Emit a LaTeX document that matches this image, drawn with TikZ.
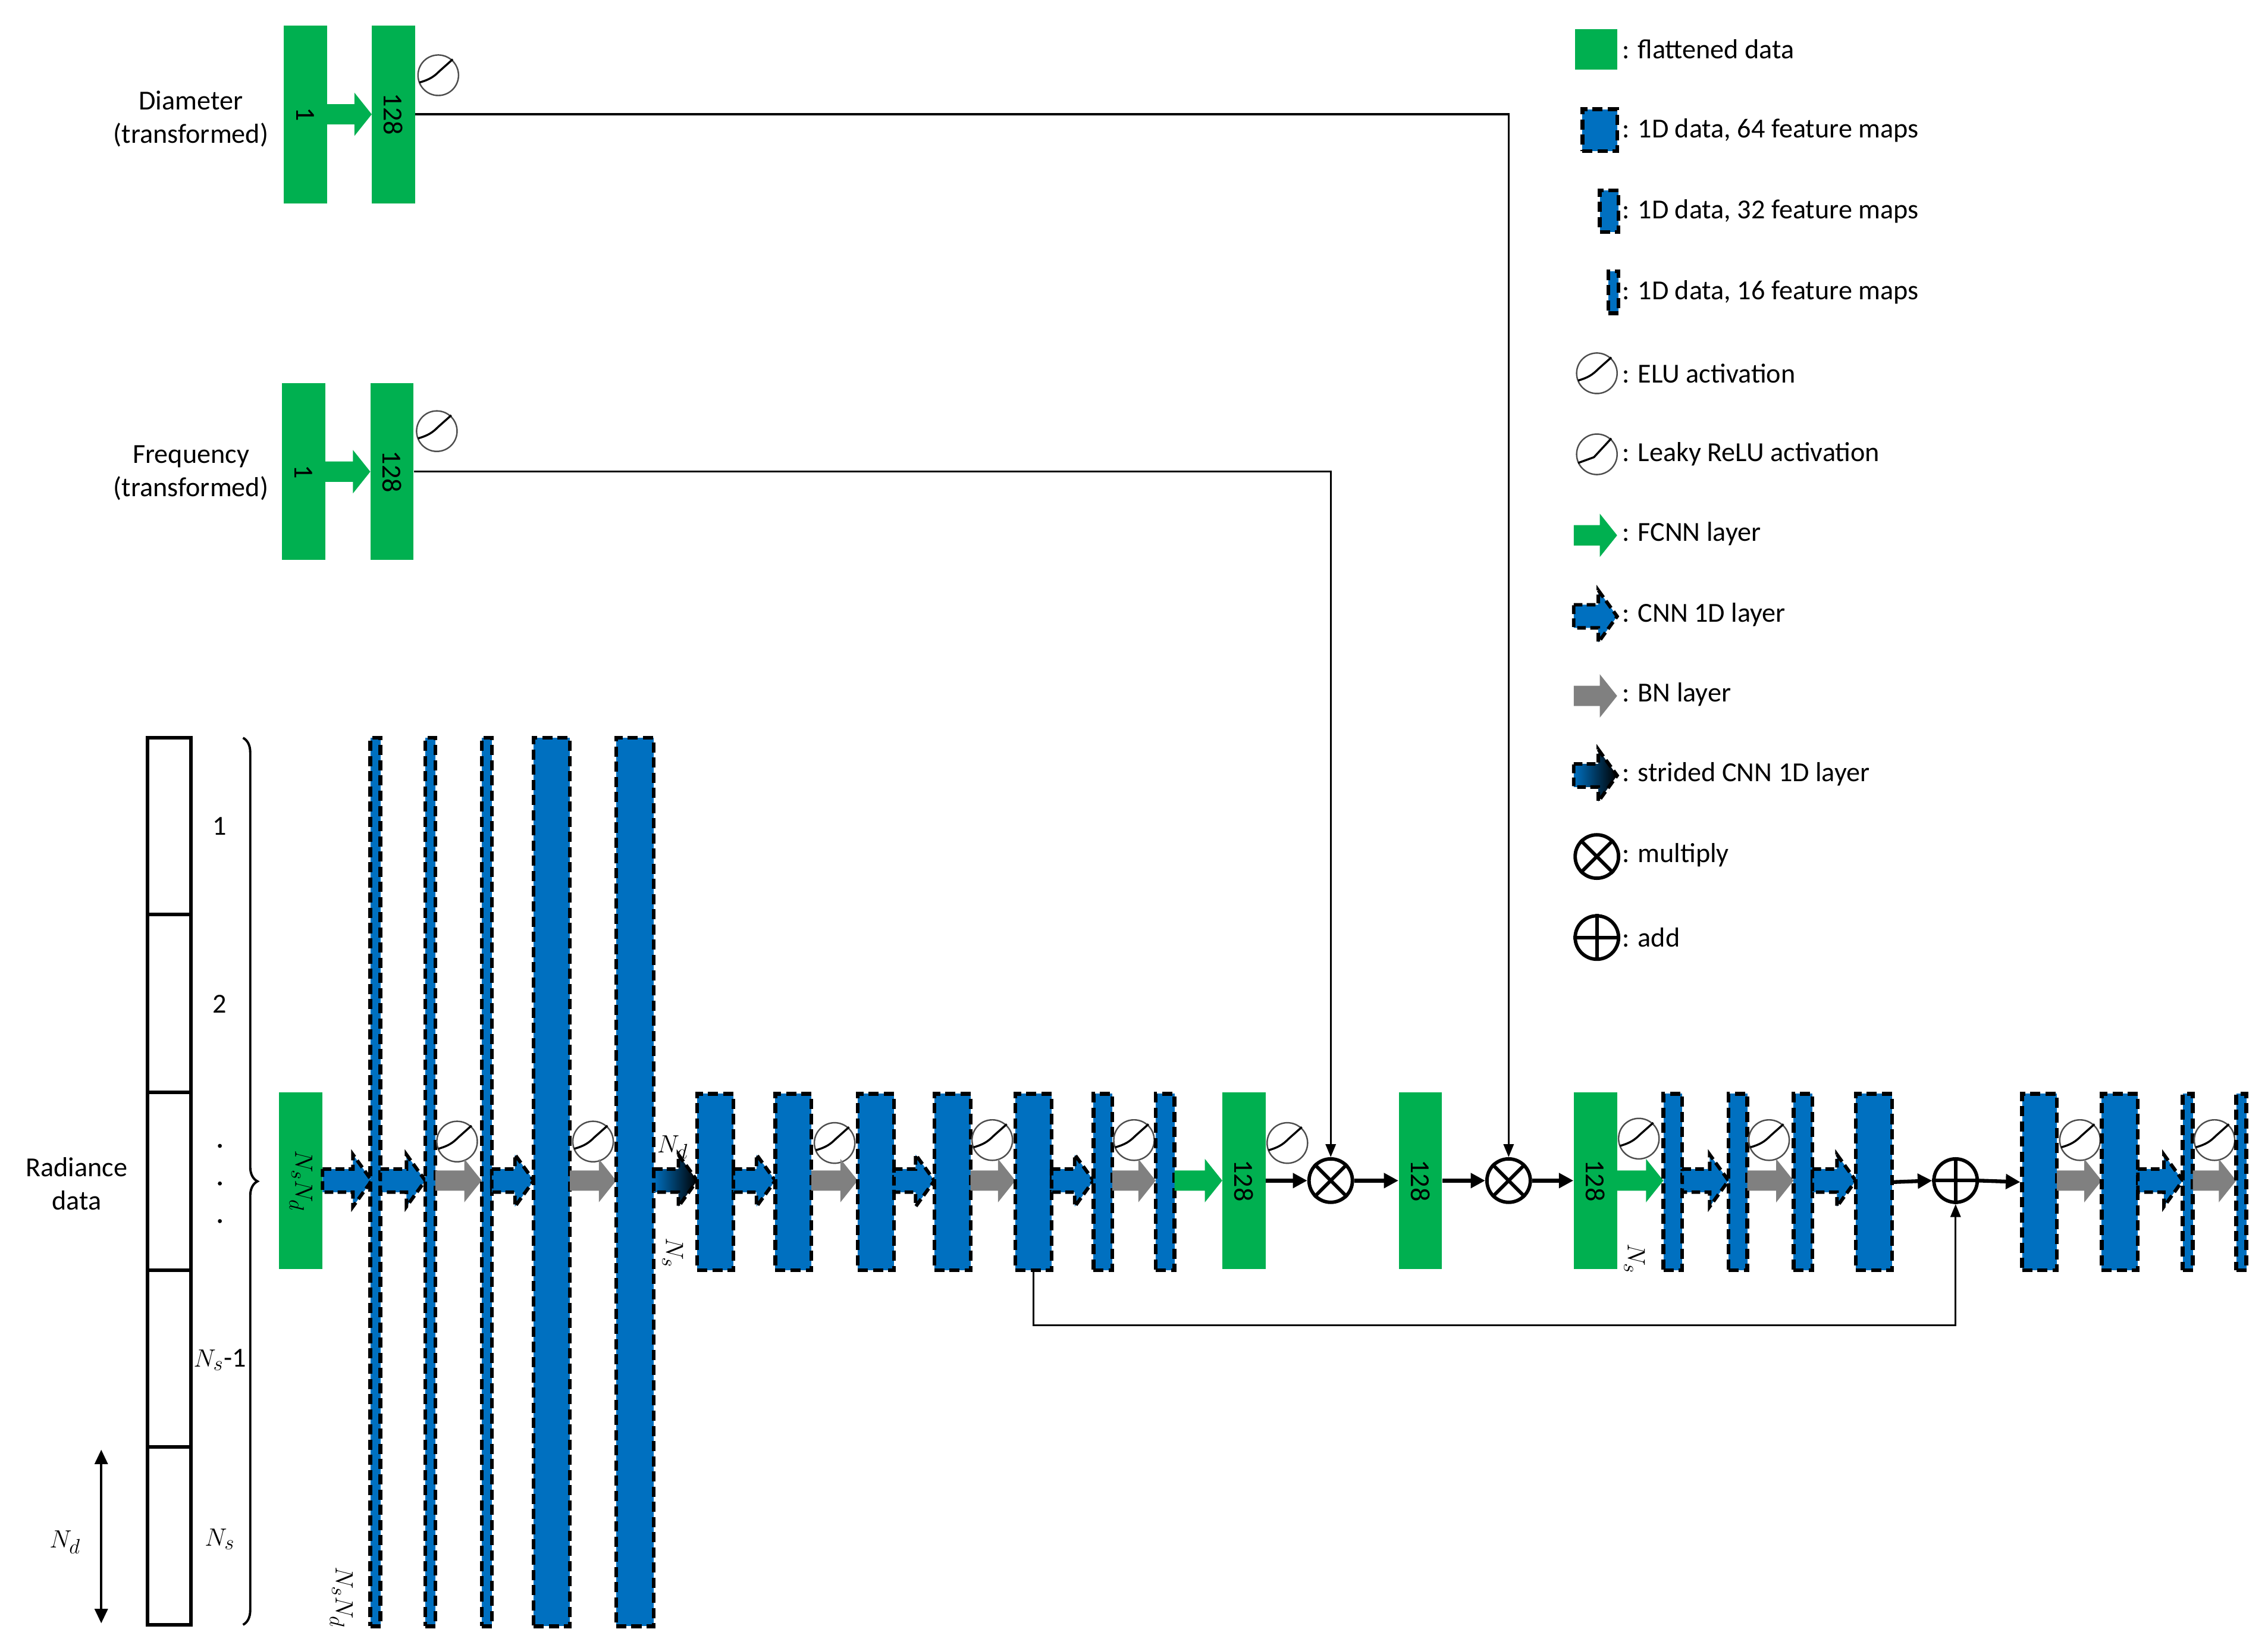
\documentclass[tikz,border=0pt]{standalone}
\usepackage{fontspec}
\setmainfont{Carlito}
\usetikzlibrary{decorations.pathreplacing,arrows.meta}
\definecolor{mygreen}{HTML}{00B050}
\definecolor{myblue}{HTML}{0070C0}
\definecolor{mygrey}{HTML}{808080}
\tikzset{
 gbar/.style={fill=mygreen,draw=none,inner sep=0,minimum width=30pt},
 fm/.style={fill=myblue,draw=black,line width=2.6pt,dash pattern=on 7pt off 3.5pt,inner sep=0},
 op/.style={circle,draw=black,line width=2.4pt,minimum size=30pt,inner sep=0},
 conn/.style={line width=1.4pt,-{Triangle[length=9pt,width=7pt]}},
 thk/.style={line width=2.6pt,-{Triangle[length=10pt,width=10pt]}},
 lbl/.style={font=\fontsize{19}{23}\selectfont},
 rl/.style={font=\fontsize{19}{23}\selectfont,rotate=-90},
}
% block arrow: x1, x2, y, style, shaft half, head half, head length
\newcommand\blk[7]{\path[#4] (#1,#3-#5)--(#2-#7,#3-#5)--(#2-#7,#3-#6)--(#2,#3)--(#2-#7,#3+#6)--(#2-#7,#3+#5)--(#1,#3+#5)--cycle;}
\newcommand\cnn[3]{\blk{#1}{#2}{#3}{fill=myblue,draw=black,line width=2.4pt,dash pattern=on 6pt off 3pt}{8}{18}{13}}
\newcommand\bn[3]{\blk{#1}{#2}{#3}{fill=mygrey}{7}{15}{12}}
\newcommand\fc[3]{\blk{#1}{#2}{#3}{fill=mygreen}{7}{15}{12}}
\newcommand\scnn[3]{\blk{#1}{#2}{#3}{left color=myblue,right color=black,draw=black,line width=2.4pt,dash pattern=on 6pt off 3pt}{8}{18}{13}}
\newcommand\elu[3]{\node[circle,draw=mygrey!60!black,line width=1pt,minimum size=28pt,inner sep=0] (#3) at (#1,#2) {};
 \draw[line width=1.4pt] (#1-13,#2+5) .. controls (#1-6,#2+3) and (#1-3,#2+1) .. (#1+1,#2-3) -- (#1+10,#2-11);}
\newcommand\lrelu[3]{\node[circle,draw=mygrey!60!black,line width=1pt,minimum size=28pt,inner sep=0] (#3) at (#1,#2) {};
 \draw[line width=1.4pt] (#1-13,#2+6) -- (#1-2,#2+2) -- (#1+10,#2-11);}
\newcommand\fmap[5]{\node[fm,minimum width=#3pt,minimum height=#4pt] (#1) at (#2,#5) {};}
\begin{document}
\begin{tikzpicture}[x=1pt,y=-1pt]
\useasboundingbox (0,0) rectangle (1568,1141);
% ---- top inputs
\node[lbl,align=center] at (132,82) {Diameter\\(transformed)};
\node[gbar,minimum height=123pt] (d1) at (211,79) {}; \node[rl] at (d1) {1};
\node[gbar,minimum height=123pt] (d128) at (272,79) {}; \node[rl] at (d128) {128};
\fc{226}{257}{79}
\elu{303}{52}{ed}
\node[lbl,align=center] at (132,327) {Frequency\\(transformed)};
\node[gbar,minimum height=122pt] (f1) at (210,326) {}; \node[rl] at (f1) {1};
\node[gbar,minimum height=122pt] (f128) at (271,326) {}; \node[rl] at (f128) {128};
\fc{225}{256}{326}
\elu{302}{298}{ef}
% ---- radiance data column
\node[lbl,align=center] at (53,818) {Radiance\\data};
\draw[line width=2.4pt] (102,510) rectangle (132,1123);
\foreach \yy in {632,755,878,1000} \draw[line width=2.4pt] (102,\yy)--(132,\yy);
\node[lbl] at (152,571) {1};
\node[lbl] at (152,694) {2};
\foreach \yy in {792,818,844} \fill (152,\yy) circle (1.4pt);
\node[lbl] at (152,940) {$N_s$-1};
\node[lbl] at (152,1064) {$N_s$};
\draw[line width=1.6pt,decorate,decoration={brace,amplitude=10pt}] (168,510) -- (168,1123);
\draw[line width=1.6pt,{Triangle[length=10pt,width=9pt]}-{Triangle[length=10pt,width=9pt]}] (70,1002) -- (70,1122);
\node[lbl] at (45,1066) {$N_d$};
% ---- main row
\node[gbar,minimum height=122pt] (g0) at (208,816) {}; \node[rl] at (g0) {$N_sN_d$};
\cnn{223}{257}{816}
\fmap{t1}{259.5}{7}{614}{817}
\cnn{263}{294}{816}
\fmap{t2}{297.5}{7}{614}{817}
\elu{316}{789}{e1}
\bn{301}{333}{816}
\fmap{t3}{336.5}{7}{614}{817}
\cnn{340}{369}{816}
\fmap{w1}{381.5}{25}{614}{817}
\elu{410}{789}{e2}
\bn{394}{426}{816}
\fmap{w2}{439}{26}{614}{817}
\node[rl] at (236,1104) {$N_sN_d$};
\scnn{452}{482}{816}
\node[lbl] at (465,793) {$N_d$};
\node[rl] at (465,866) {$N_s$};
\fmap{b1}{494.5}{25}{122}{817}
\cnn{507}{536}{816}
\fmap{b2}{548.5}{25}{122}{817}
\elu{577}{790}{e3}
\bn{561}{593}{816}
\fmap{b3}{605.5}{25}{122}{817}
\cnn{618}{646}{816}
\fmap{b4}{658.5}{25}{122}{817}
\elu{686}{788}{e4}
\bn{671}{702}{816}
\fmap{b5}{714.5}{25}{122}{817}
\cnn{727}{756}{816}
\fmap{c1}{762.5}{13}{122}{817}
\elu{784}{788}{e5}
\bn{769}{799}{816}
\fmap{c2}{805.5}{13}{122}{817}
\fc{812}{845}{816}
\node[gbar,minimum height=122pt] (h1) at (860,816) {}; \node[rl] at (h1) {128};
\elu{890}{790}{e6}
\node[op] (m1) at (920,816) {}; \draw[line width=2.4pt] (m1.north west)--(m1.south east) (m1.north east)--(m1.south west);
\node[gbar,minimum height=122pt] (h2) at (982,816) {}; \node[rl] at (h2) {128};
\node[op] (m2) at (1043,816) {}; \draw[line width=2.4pt] (m2.north west)--(m2.south east) (m2.north east)--(m2.south west);
\node[gbar,minimum height=122pt] (h3) at (1103,816) {}; \node[rl] at (h3) {128};
\elu{1133}{787}{e7}
\node[rl] at (1130,870) {$N_s$};
\draw[thk] (h1.east) -- (m1.west);
\draw[thk] (m1.east) -- (h2.west);
\draw[thk] (h2.east) -- (m2.west);
\draw[thk] (m2.east) -- (h3.west);
\fc{1118}{1150}{816}
\fmap{c3}{1156.5}{13}{122}{817}
\cnn{1163}{1195}{816}
\fmap{c4}{1201.5}{13}{122}{817}
\elu{1223}{788}{e8}
\bn{1208}{1240}{816}
\fmap{c5}{1246.5}{13}{122}{817}
\cnn{1253}{1283}{816}
\fmap{b6}{1295.5}{25}{122}{817}
\node[op] (ad) at (1352,816) {}; \draw[line width=2.4pt] (ad.north)--(ad.south) (ad.west)--(ad.east);
\fmap{b7}{1410}{24}{122}{817}
\draw[thk] (b6.east) -- (ad.west);
\draw[thk] (ad.east) -- (b7.west);
\elu{1438}{788}{e9}
\bn{1422}{1453}{816}
\fmap{b8}{1465.5}{25}{122}{817}
\cnn{1478}{1509}{816}
\fmap{s1}{1512.5}{7}{122}{817}
\elu{1531}{788}{e10}
\bn{1516}{1546}{816}
\fmap{s2}{1549.5}{7}{122}{817}
% ---- long connectors
\draw[conn] (d128.east |- 0,79) -| (m2.north);
\draw[conn] (f128.east) -| (m1.north);
\draw[conn] (b5.south) -- (714.5,916) -| (ad.south);
% ---- legend
\node[gbar,minimum width=29pt,minimum height=28pt] (L1) at (1103.5,34) {};
\node[lbl,anchor=west] at (1118,34) {: flattened data};
\node[fm,minimum width=24pt,minimum height=29pt] (L2) at (1106,90) {};
\node[lbl,anchor=west] at (1118,90) {: 1D data, 64 feature maps};
\node[fm,minimum width=13pt,minimum height=29pt] (L3) at (1112.5,146) {};
\node[lbl,anchor=west] at (1118,146) {: 1D data, 32 feature maps};
\node[fm,minimum width=7pt,minimum height=29pt] (L4) at (1115.5,202) {};
\node[lbl,anchor=west] at (1118,202) {: 1D data, 16 feature maps};
\elu{1104}{258}{L5}
\node[lbl,anchor=west] at (1118,258) {: ELU activation};
\lrelu{1104}{314}{L6}
\node[lbl,anchor=west] at (1118,314) {: Leaky ReLU activation};
\fc{1088}{1118}{370}
\node[lbl,anchor=west] at (1118,369) {: FCNN layer};
\cnn{1088}{1118}{426}
\node[lbl,anchor=west] at (1118,425) {: CNN 1D layer};
\bn{1088}{1118}{481}
\node[lbl,anchor=west] at (1118,480) {: BN layer};
\scnn{1088}{1118}{536}
\node[lbl,anchor=west] at (1118,535) {: strided CNN 1D layer};
\node[op] (L7) at (1104,592) {}; \draw[line width=2.4pt] (L7.north west)--(L7.south east) (L7.north east)--(L7.south west);
\node[lbl,anchor=west] at (1118,591) {: multiply};
\node[op] (L8) at (1104,648) {}; \draw[line width=2.4pt] (L8.north)--(L8.south) (L8.west)--(L8.east);
\node[lbl,anchor=west] at (1118,648) {: add};
\end{tikzpicture}
\end{document}
